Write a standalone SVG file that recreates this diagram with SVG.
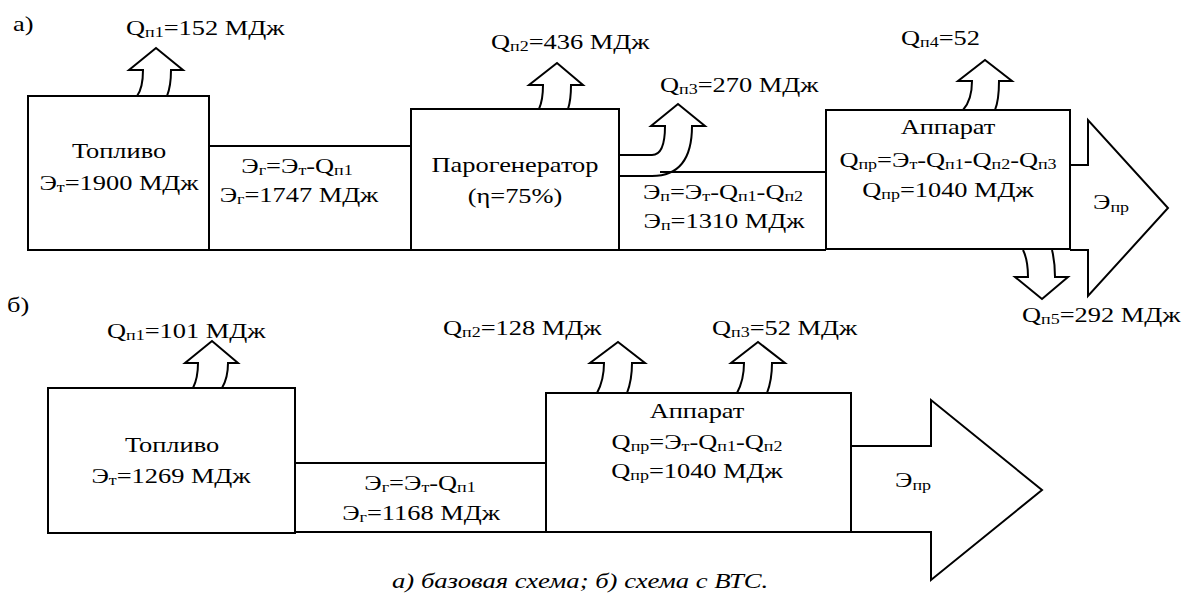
<svg xmlns="http://www.w3.org/2000/svg" width="1182" height="596" viewBox="0 0 1182 596">
<style>
text{font-family:'Liberation Serif','Times New Roman','DejaVu Serif',serif;fill:#000}
.t{font-size:22px}
.m{text-anchor:middle}
.s{font-size:15px}
.cap{font-size:21px;font-style:italic}
.b{fill:#fff;stroke:#000;stroke-width:2}
.l{fill:none;stroke:#000;stroke-width:2}
</style>
<rect width="1182" height="596" fill="#fff"/>
<g id="connectors">
<path class="l" d="M209,146 H411 M209,250 H411"/>
<path class="l" d="M660,172 H826 M619,250 H826"/>
<path class="b" d="M1070,165 H1088 V120 L1168,208 L1088,296 V250 H1070"/>
<path class="l" d="M137,96 Q143,88 143,70 H129 L156,48 L183,70 H171 Q171,86 167,96"/>
<path class="l" d="M539,109 Q543,100 543,85 H529 L557,63 L583,85 H571 Q571,100 568,109"/>
<path class="l" d="M619,155 H652 Q665,155 665,126 H651 L678,104 L705,126 H692 Q692,176 652,176 H619"/>
<path class="l" d="M963,110 Q972,100 972,81 H958 L985,60 L1012,81 H999 Q999,100 995,110"/>
<path class="l" d="M1023,250 Q1028,260 1028,277 H1015 L1042,299 L1068,277 H1055 Q1055,262 1052,250"/>
<path class="l" d="M295,463 H546 M295,532 H546"/>
<path class="b" d="M851,446 H931 V400 L1042,490 L931,580 V532 H851"/>
<path class="l" d="M193,388 Q198,378 198,363 H185 L212,341 L238,363 H228 Q228,378 222,388"/>
<path class="l" d="M597,393 Q604,380 604,363 H590 L618,342 L645,363 H632 Q632,380 627,393"/>
<path class="l" d="M737,393 Q744,380 744,363 H731 L758,342 L785,363 H772 Q772,380 767,393"/>
</g>
<g id="a-label"><text class="t" transform="translate(13 31) scale(1.2 1)">а)</text></g>
<g id="a-fuel">
<rect class="b" x="28" y="96" width="181" height="154"/>
<text class="t m" transform="translate(119 158) scale(1.2 1)">Топливо</text>
<text class="t m" transform="translate(119 190) scale(1.2 1)">Э<tspan class="s" dy="2">т</tspan><tspan dy="-2">=1900 МДж</tspan></text>
</g>
<g id="a-eg">
<text class="t m" transform="translate(297 173) scale(1.2 1)">Э<tspan class="s" dy="2">г</tspan><tspan dy="-2">=Э</tspan><tspan class="s" dy="2">т</tspan><tspan dy="-2">-Q</tspan><tspan class="s" dy="2">п1</tspan></text>
<text class="t m" transform="translate(299 202) scale(1.2 1)">Э<tspan class="s" dy="2">г</tspan><tspan dy="-2">=1747 МДж</tspan></text>
</g>
<g id="a-q1"><text class="t" transform="translate(126 35) scale(1.2 1)">Q<tspan class="s" dy="2">п1</tspan><tspan dy="-2">=152 МДж</tspan></text></g>
<g id="a-steam">
<rect class="b" x="411" y="109" width="208" height="141"/>
<text class="t m" transform="translate(515 172) scale(1.2 1)">Парогенератор</text>
<text class="t m" transform="translate(515 203) scale(1.2 1)">(η=75%)</text>
</g>
<g id="a-q2"><text class="t" transform="translate(491 49) scale(1.2 1)">Q<tspan class="s" dy="2">п2</tspan><tspan dy="-2">=436 МДж</tspan></text></g>
<g id="a-q3"><text class="t" transform="translate(660 92) scale(1.2 1)">Q<tspan class="s" dy="2">п3</tspan><tspan dy="-2">=270 МДж</tspan></text></g>
<g id="a-ep">
<text class="t m" transform="translate(723 199) scale(1.2 1)">Э<tspan class="s" dy="2">п</tspan><tspan dy="-2">=Э</tspan><tspan class="s" dy="2">т</tspan><tspan dy="-2">-Q</tspan><tspan class="s" dy="2">п1</tspan><tspan dy="-2">-Q</tspan><tspan class="s" dy="2">п2</tspan></text>
<text class="t m" transform="translate(724 228) scale(1.2 1)">Э<tspan class="s" dy="2">п</tspan><tspan dy="-2">=1310 МДж</tspan></text>
</g>
<g id="a-app">
<rect class="b" x="826" y="110" width="244" height="139"/>
<text class="t m" transform="translate(948 134) scale(1.2 1)">Аппарат</text>
<text class="t m" transform="translate(948 167) scale(1.2 1)">Q<tspan class="s" dy="2">пр</tspan><tspan dy="-2">=Э</tspan><tspan class="s" dy="2">т</tspan><tspan dy="-2">-Q</tspan><tspan class="s" dy="2">п1</tspan><tspan dy="-2">-Q</tspan><tspan class="s" dy="2">п2</tspan><tspan dy="-2">-Q</tspan><tspan class="s" dy="2">п3</tspan></text>
<text class="t m" transform="translate(948 197) scale(1.2 1)">Q<tspan class="s" dy="2">пр</tspan><tspan dy="-2">=1040 МДж</tspan></text>
</g>
<g id="a-q4"><text class="t" transform="translate(901 45) scale(1.2 1)">Q<tspan class="s" dy="2">п4</tspan><tspan dy="-2">=52</tspan></text></g>
<g id="a-q5"><text class="t" transform="translate(1022 322) scale(1.2 1)">Q<tspan class="s" dy="2">п5</tspan><tspan dy="-2">=292 МДж</tspan></text></g>
<g id="a-epr"><text class="t" transform="translate(1093 209) scale(1.2 1)">Э<tspan class="s" dy="3">пр</tspan></text></g>
<g id="b-label"><text class="t" transform="translate(7 312) scale(1.2 1)">б)</text></g>
<g id="b-fuel">
<rect class="b" x="48" y="388" width="247" height="145"/>
<text class="t m" transform="translate(172 452) scale(1.2 1)">Топливо</text>
<text class="t m" transform="translate(171 483) scale(1.2 1)">Э<tspan class="s" dy="2">т</tspan><tspan dy="-2">=1269 МДж</tspan></text>
</g>
<g id="b-q1"><text class="t" transform="translate(107 338) scale(1.2 1)">Q<tspan class="s" dy="2">п1</tspan><tspan dy="-2">=101 МДж</tspan></text></g>
<g id="b-eg">
<text class="t m" transform="translate(420 490) scale(1.2 1)">Э<tspan class="s" dy="2">г</tspan><tspan dy="-2">=Э</tspan><tspan class="s" dy="2">т</tspan><tspan dy="-2">-Q</tspan><tspan class="s" dy="2">п1</tspan></text>
<text class="t m" transform="translate(421 520) scale(1.2 1)">Э<tspan class="s" dy="2">г</tspan><tspan dy="-2">=1168 МДж</tspan></text>
</g>
<g id="b-app">
<rect class="b" x="546" y="393" width="305" height="139"/>
<text class="t m" transform="translate(697 418) scale(1.2 1)">Аппарат</text>
<text class="t m" transform="translate(697 449) scale(1.2 1)">Q<tspan class="s" dy="2">пр</tspan><tspan dy="-2">=Э</tspan><tspan class="s" dy="2">т</tspan><tspan dy="-2">-Q</tspan><tspan class="s" dy="2">п1</tspan><tspan dy="-2">-Q</tspan><tspan class="s" dy="2">п2</tspan></text>
<text class="t m" transform="translate(697 478) scale(1.2 1)">Q<tspan class="s" dy="2">пр</tspan><tspan dy="-2">=1040 МДж</tspan></text>
</g>
<g id="b-q2"><text class="t" transform="translate(443 335) scale(1.2 1)">Q<tspan class="s" dy="2">п2</tspan><tspan dy="-2">=128 МДж</tspan></text></g>
<g id="b-q3"><text class="t" transform="translate(712 335) scale(1.2 1)">Q<tspan class="s" dy="2">п3</tspan><tspan dy="-2">=52 МДж</tspan></text></g>
<g id="b-epr"><text class="t" transform="translate(895 487) scale(1.2 1)">Э<tspan class="s" dy="3">пр</tspan></text></g>
<g id="caption"><text class="cap" transform="translate(392 588) scale(1.27 1)">а) базовая схема; б) схема с ВТС.</text></g>
</svg>
